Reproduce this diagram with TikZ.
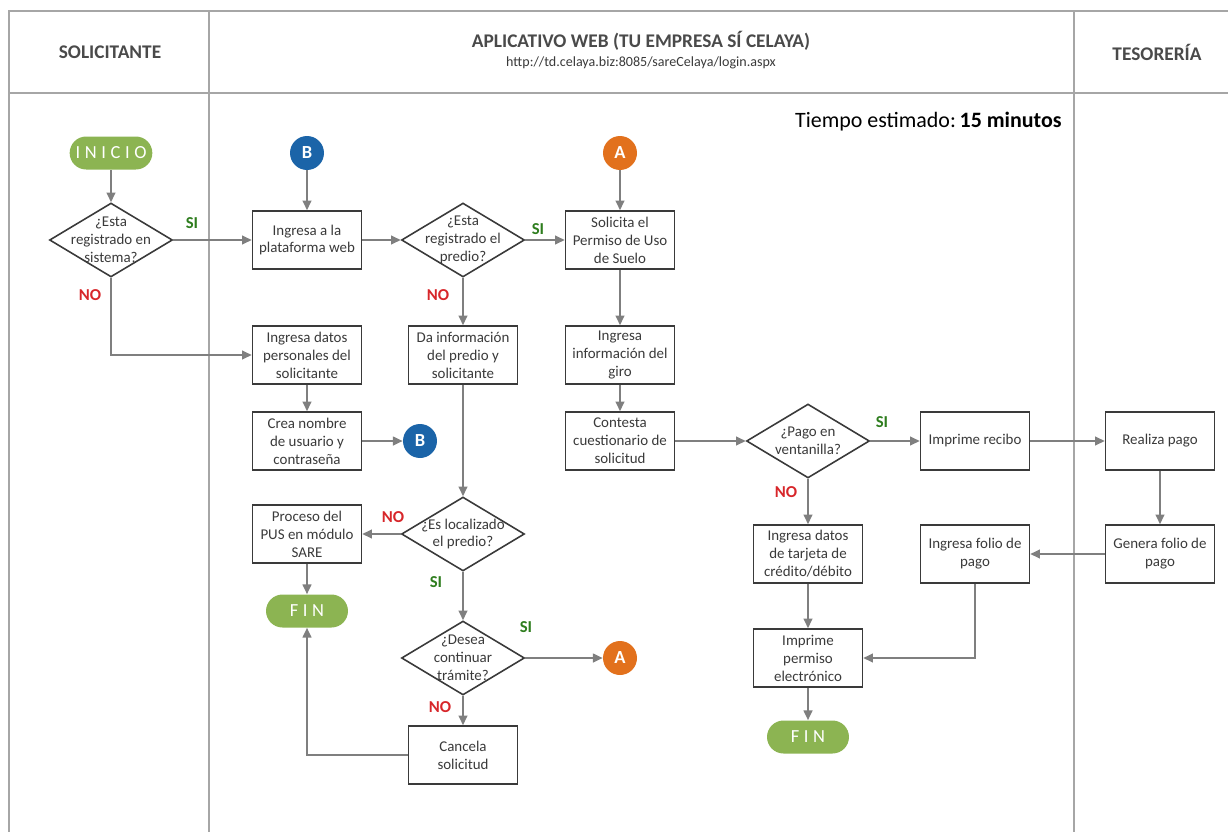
\documentclass[tikz,border=0pt]{standalone}
\usepackage{fontspec}
\setmainfont{Carlito}
\usepackage{tikz}
\usetikzlibrary{shapes.geometric,arrows.meta}
\definecolor{laneGray}{HTML}{A6A6A6}
\definecolor{lineGray}{HTML}{7F7F7F}
\definecolor{boxGray}{HTML}{3A3A3A}
\definecolor{headGray}{HTML}{4A4A4A}
\definecolor{termGreen}{HTML}{8CB452}
\definecolor{connBlue}{HTML}{1B64A8}
\definecolor{connOrange}{HTML}{E2711D}
\definecolor{siGreen}{HTML}{2E7D1E}
\definecolor{noRed}{HTML}{D7262A}
\tikzset{
  lane/.style={draw=laneGray, line width=0.9pt},
  lanehead/.style={text=headGray, font=\bfseries\fontsize{11}{13}\selectfont},
  proc/.style={draw=boxGray, line width=0.9pt, fill=white, minimum width=2.18cm, minimum height=1.16cm, inner sep=1pt, align=center, text=boxGray, font=\fontsize{8.5}{10.2}\selectfont},
  decision/.style={diamond, draw=boxGray, line width=0.9pt, fill=white, minimum width=2.46cm, minimum height=1.48cm, inner sep=0pt},
  dtext/.style={align=center, text=boxGray, inner sep=0pt, font=\fontsize{8.5}{10.2}\selectfont},
  term/.style={fill=termGreen, rounded corners=0.33cm, minimum width=1.64cm, minimum height=0.66cm, text=white, font=\fontsize{10.5}{12}\selectfont\addfontfeatures{LetterSpace=25}},
  conn/.style={circle, minimum size=0.68cm, inner sep=0pt, text=white, font=\bfseries\fontsize{10.5}{12}\selectfont},
  arrow/.style={-{Triangle[length=5.5pt,width=5pt]}, draw=lineGray, line width=0.9pt},
  yes/.style={text=siGreen, font=\bfseries\fontsize{9.5}{11}\selectfont},
  no/.style={text=noRed, font=\bfseries\fontsize{9.5}{11}\selectfont}
}

\begin{document}
\begin{tikzpicture}[x=0.02cm, y=-0.02cm]
  \useasboundingbox (0,0) rectangle (1228,832);
  % swimlanes
  \draw[lane] (9,832) -- (9,11) -- (1228,11);
  \draw[lane] (9,93) -- (1228,93);
  \draw[lane] (209,11) -- (209,832);
  \draw[lane] (1074,11) -- (1074,832);
  \node[lanehead] (hSol) at (110,52) {SOLICITANTE};
  \node[lanehead] (hApp) at (641,41) {APLICATIVO WEB (TU EMPRESA SÍ CELAYA)};
  \node[text=boxGray, font=\fontsize{8}{9}\selectfont] (hUrl) at (641,63) {http://td.celaya.biz:8085/sareCelaya/login.aspx};
  \node[lanehead] (hTes) at (1157,52) {TESORERÍA};
  \node[anchor=east, inner sep=0pt, font=\fontsize{12.5}{14}\selectfont] (tiempo) at (1062,122) {Tiempo estimado:\,\textbf{15 minutos}};

  % nodes
  \node[term] (ini) at (111,153) {INICIO};
  \node[decision] (reg) at (111,240) {};
  \node[dtext] (regT) at (reg) {¿Esta\\registrado en\\sistema?};
  \node[conn, fill=connBlue] (bTop) at (307,153) {B};
  \node[proc] (plat) at (307,240) {Ingresa a la\\plataforma web};
  \node[decision] (pred) at (463,240) {};
  \node[dtext] (predT) at (pred) {¿Esta\\registrado el\\predio?};
  \node[conn, fill=connOrange] (aTop) at (620,153) {A};
  \node[proc] (sol) at (620,240) {Solicita el\\Permiso de Uso\\de Suelo};

  \node[proc] (pers) at (307,355) {Ingresa datos\\personales del\\solicitante};
  \node[proc] (info) at (463,355) {Da información\\del predio y\\solicitante};
  \node[proc] (giro) at (620,355) {Ingresa\\información del\\giro};

  \node[proc] (usr) at (307,441) {Crea nombre\\de usuario y\\contraseña};
  \node[conn, fill=connBlue] (bMid) at (420,441) {B};
  \node[proc] (cuest) at (620,441) {Contesta\\cuestionario de\\solicitud};
  \node[decision] (ventan) at (808,441) {};
  \node[dtext] (ventanT) at (ventan) {¿Pago en\\ventanilla?};
  \node[proc] (recibo) at (975,441) {Imprime recibo};
  \node[proc] (realiza) at (1160,441) {Realiza pago};

  \node[proc] (pus) at (307,534) {Proceso del\\PUS en módulo\\SARE};
  \node[decision] (loc) at (463,534) {};
  \node[dtext] (locT) at (loc) {¿Es localizado\\el predio?};
  \node[proc] (tarjeta) at (808,554) {Ingresa datos\\de tarjeta de\\crédito/débito};
  \node[proc] (folio) at (975,554) {Ingresa folio de\\pago};
  \node[proc] (genera) at (1160,554) {Genera folio de\\pago};

  \node[term] (fin1) at (307,611) {FIN};
  \node[decision] (desea) at (463,658) {};
  \node[dtext] (deseaT) at (desea) {¿Desea\\continuar\\trámite?};
  \node[conn, fill=connOrange] (aMid) at (620,658) {A};
  \node[proc] (permiso) at (808,658) {Imprime\\permiso\\electrónico};
  \node[term] (fin2) at (808,737) {FIN};
  \node[proc] (cancela) at (463,755) {Cancela\\solicitud};

  % connectors
  \draw[arrow] (ini) -- (reg);
  \draw[arrow] (reg) -- (plat);
  \draw[arrow] (reg.south) |- (pers.west);
  \draw[arrow] (bTop) -- (plat);
  \draw[arrow] (plat) -- (pred);
  \draw[arrow] (pred) -- (sol);
  \draw[arrow] (aTop) -- (sol);
  \draw[arrow] (pred) -- (info);
  \draw[arrow] (sol) -- (giro);
  \draw[arrow] (giro) -- (cuest);
  \draw[arrow] (pers) -- (usr);
  \draw[arrow] (usr) -- (bMid);
  \draw[arrow] (info) -- (loc);
  \draw[arrow] (loc) -- (pus);
  \draw[arrow] (pus) -- (fin1);
  \draw[arrow] (loc) -- (desea);
  \draw[arrow] (desea) -- (aMid);
  \draw[arrow] (desea) -- (cancela);
  \draw[arrow] (cancela.west) -| (fin1.south);
  \draw[arrow] (cuest) -- (ventan);
  \draw[arrow] (ventan) -- (recibo);
  \draw[arrow] (ventan) -- (tarjeta);
  \draw[arrow] (recibo) -- (realiza);
  \draw[arrow] (realiza) -- (genera);
  \draw[arrow] (genera) -- (folio);
  \draw[arrow] (tarjeta) -- (permiso);
  \draw[arrow] (folio.south) |- (permiso.east);
  \draw[arrow] (permiso) -- (fin2);

  % branch labels
  \node[yes] (siReg) at (192,223) {SI};
  \node[no] (noReg) at (90,295) {NO};
  \node[yes] (siPred) at (538,229) {SI};
  \node[no] (noPred) at (438,295) {NO};
  \node[no] (noLoc) at (393,517) {NO};
  \node[yes] (siLoc) at (436,582) {SI};
  \node[yes] (siDes) at (526,627) {SI};
  \node[no] (noDes) at (440,707) {NO};
  \node[yes] (siVen) at (882,422) {SI};
  \node[no] (noVen) at (786,492) {NO};
\end{tikzpicture}
\end{document}
